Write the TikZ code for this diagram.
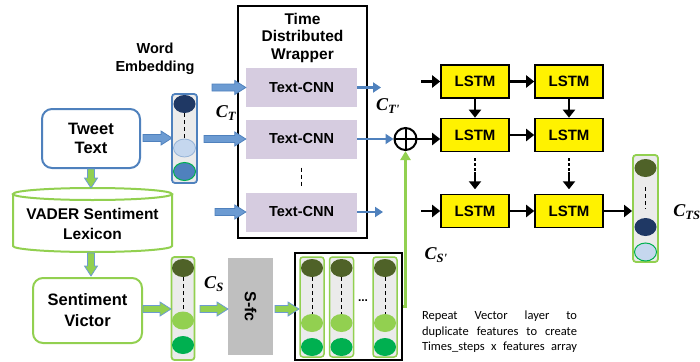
\documentclass[tikz,border=0pt]{standalone}
\usepackage{fontspec}
\setmainfont{Liberation Sans}
\newfontfamily\calfont{Carlito}
\newfontfamily\seriffont{Liberation Serif}
\usetikzlibrary{calc,arrows.meta,shapes.geometric}
\definecolor{bluebd}{HTML}{4F81BD}
\definecolor{bluefill}{HTML}{6C9BD2}
\definecolor{greenbd}{HTML}{92D050}
\definecolor{cnnfill}{HTML}{D6CCE0}
\definecolor{navy}{HTML}{1F3864}
\definecolor{lblue}{HTML}{C5D7EE}
\definecolor{mblue}{HTML}{4F81BD}
\definecolor{olive}{HTML}{4F6228}
\definecolor{lgreen}{HTML}{92D050}
\definecolor{dgreen}{HTML}{00B050}
\definecolor{vecbg}{HTML}{EBEBEB}
\definecolor{sfcgray}{HTML}{BFBFBF}
% horizontal block arrow (left to right)
\newcommand\harrow[3]{%
  \draw[#1] ($(#2)+(0,-3.5)$) -- ($(#3)+(-11,-3.5)$) -- ($(#3)+(-11,-7)$) -- (#3) --
  ($(#3)+(-11,7)$) -- ($(#3)+(-11,3.5)$) -- ($(#2)+(0,3.5)$) -- cycle;}
% vertical block arrow (downwards; y axis points down)
\newcommand\varrow[3]{%
  \draw[#1] ($(#2)+(-3.5,0)$) -- ($(#3)+(-3.5,-10)$) -- ($(#3)+(-6.5,-10)$) -- (#3) --
  ($(#3)+(6.5,-10)$) -- ($(#3)+(3.5,-10)$) -- ($(#2)+(3.5,0)$) -- cycle;}
\newcommand\clab[2]{C\textsubscript{#2}}
\tikzset{
  lbl/.style={align=center, inner sep=0pt, font=\bfseries\fontsize{15}{17.5}\selectfont},
  bluebox/.style={draw=bluebd, line width=2pt, rounded corners=10pt, fill=white, inner sep=0pt, align=center, font=\bfseries\fontsize{16.5}{19.5}\selectfont},
  greenbox/.style={draw=greenbd, line width=2pt, rounded corners=10pt, fill=white, inner sep=0pt, align=center, font=\bfseries\fontsize{16.5}{21}\selectfont},
  vecb/.style={draw=bluebd, line width=1.8pt, fill=vecbg, rounded corners=3pt, inner sep=0pt},
  vecg/.style={draw=greenbd, line width=1.8pt, fill=vecbg, rounded corners=3pt, inner sep=0pt},
  dot/.style={ellipse, minimum width=22pt, minimum height=18pt, inner sep=0pt},
  cnn/.style={fill=cnnfill, minimum width=111pt, minimum height=39pt, inner sep=0pt, font=\bfseries\fontsize{14.5}{16}\selectfont},
  lstm/.style={fill=yellow, draw=black, line width=1.6pt, minimum width=68pt, minimum height=33pt, inner sep=0pt, font=\bfseries\fontsize{15}{16}\selectfont},
  barr/.style={draw=bluebd, line width=2.5pt, -{Triangle[length=8pt,width=10pt]}},
  karr/.style={draw=black, line width=2.2pt, -{Triangle[length=8pt,width=12pt]}},
  garr/.style={draw=greenbd, line width=2.5pt, -{Triangle[length=9pt,width=10pt]}},
  bblk/.style={fill=bluefill, draw=bluebd, line width=0.8pt},
  gblk/.style={fill=greenbd, draw=bluefill, line width=0.8pt},
  clbl/.style={inner sep=0pt, font=\seriffont\bfseries\itshape\fontsize{18}{20}\selectfont},
}
\begin{document}
\begin{tikzpicture}[x=1pt,y=-1pt]
\useasboundingbox (0,0) rectangle (700,361);

% ---- left column
\node[lbl, font=\bfseries\fontsize{14.5}{18}\selectfont] (we) at (155,59) {Word\\Embedding};
\node[bluebox, minimum width=98pt, minimum height=59pt] (tweet) at (91,138.5) {Tweet\\Text};
\node[inner sep=0pt, minimum width=159pt, minimum height=64pt] (vader) at (92.5,220) {};
\draw[draw=greenbd, line width=2pt, fill=white] (13,194) -- (13,246) arc[start angle=180, end angle=0, x radius=79.5, y radius=6] -- (172,194);
\draw[draw=greenbd, line width=2pt, fill=white] (92.5,194) ellipse[x radius=79.5, y radius=6];
\node[lbl, font=\bfseries\fontsize{15.5}{20}\selectfont] (vadertxt) at (92.5,224) {VADER Sentiment\\Lexicon};
\node[greenbox, minimum width=109pt, minimum height=65pt] (sent) at (87.5,310.5) {Sentiment\\Victor};

\coordinate (t1) at (91,169);
\coordinate (t2) at (91,188);
\varrow{gblk}{t1}{t2}
\coordinate (v1) at (91,253);
\coordinate (v2) at (91,276);
\varrow{gblk}{v1}{v2}

% ---- embedding vector
\node[vecb, minimum width=25pt, minimum height=89pt] (emb) at (184.5,138.5) {};
\node[dot, fill=navy] (e1) at (184.5,104) {};
\node[dot, fill=lblue, draw=bluebd!60, line width=0.8pt] (e2) at (184.5,148) {};
\node[dot, fill=mblue, draw=dgreen, line width=1pt] (e3) at (184.5,171.5) {};
\draw[dashed, line width=0.8pt, dash pattern=on 4pt off 3pt] (e1.south) -- (e2.north);
\coordinate (tw1) at (143,138);
\coordinate (tw2) at (172,138);
\harrow{bblk}{tw1}{tw2}

% ---- sentiment vector
\node[vecg, minimum width=23pt, minimum height=103pt] (svec) at (183,308.5) {};
\node[dot, fill=olive] (s1) at (183,268) {};
\node[dot, fill=lgreen] (s2) at (183,320.5) {};
\node[dot, fill=dgreen] (s3) at (183,345) {};
\draw[dashed, line width=0.8pt, dash pattern=on 4pt off 3pt] (s1.south) -- (s2.north);
\coordinate (sv1) at (143,309);
\coordinate (sv2) at (171,309);
\harrow{gblk}{sv1}{sv2}

% ---- S-fc
\node[fill=sfcgray, minimum width=45pt, minimum height=97pt, inner sep=0pt] (sfc) at (250.5,306.5) {};
\node[rotate=-90, inner sep=0pt, font=\bfseries\fontsize{16}{18}\selectfont] (sfctxt) at (sfc.center) {S-fc};
\coordinate (sf1) at (200,309);
\coordinate (sf2) at (228,309);
\harrow{gblk}{sf1}{sf2}
\node[clbl] (lblcs) at (214,284) {\clab{C}{S}};

% ---- repeat box
\node[draw=black, line width=2pt, minimum width=107pt, minimum height=107pt, inner sep=0pt] (rep) at (348.5,306.5) {};
\foreach \n/\x in {1/312,2/341.5,3/385}{
  \node[vecg, line width=1.5pt, minimum width=24pt, minimum height=100pt] (r\n) at (\x,307) {};
  \node[dot, fill=olive] (r\n a) at (\x,268) {};
  \node[dot, fill=lgreen] (r\n b) at (\x,323) {};
  \node[dot, fill=dgreen] (r\n c) at (\x,347) {};
  \draw[dashed, line width=0.8pt, dash pattern=on 4pt off 3pt] (r\n a.south) -- (r\n b.north);
}
\node[inner sep=0pt, font=\bfseries\fontsize{12}{14}\selectfont] (dots) at (363,301) {...};
\coordinate (rp1) at (275,309);
\coordinate (rp2) at (299,309);
\harrow{gblk}{rp1}{rp2}

% ---- time distributed wrapper
\node[draw=black, line width=2pt, minimum width=129pt, minimum height=232pt, inner sep=0pt] (tdw) at (302.5,122) {};
\node[lbl, font=\bfseries\fontsize{15.5}{17.5}\selectfont] (tdwt) at (302.5,37.5) {Time\\Distributed\\Wrapper};
\node[cnn] (c1) at (301.5,87.5) {Text-CNN};
\node[cnn] (c2) at (301.5,139) {Text-CNN};
\node[cnn] (c3) at (301.5,212) {Text-CNN};
\draw[dashed, line width=0.8pt, dash pattern=on 4pt off 3pt] ($(c2.south)+(0,9)$) -- ($(c3.north)+(0,-6)$);
\coordinate (a1) at (212,87.5);
\coordinate (a2) at (204,139);
\coordinate (a3) at (215,212);
\harrow{bblk}{a1}{c1.west}
\harrow{bblk}{a2}{c2.west}
\harrow{bblk}{a3}{c3.west}
\node[clbl] (lblct) at (226,113) {\clab{C}{T}};

% ---- oplus
\node[circle, draw=black, line width=2pt, minimum size=22pt, inner sep=0pt, fill=white] (op) at (405.5,139) {};
\draw[line width=2pt] (op.north) -- (op.south) (op.west) -- (op.east);
\coordinate (c1o) at (381,87.5);
\coordinate (c3o) at (383,212);
\draw[barr] (c1.east) -- (c1o);
\draw[barr] (c2.east) -- (op.west);
\draw[barr] (c3.east) -- (c3o);
\node[clbl] (lblctp) at (388,106) {\clab{C}{T'}};
\draw[garr] (rep.east) -| (op.south);
\node[clbl] (lblcsp) at (436,255) {\clab{C}{S'}};

% ---- LSTM grid
\node[lstm] (l11) at (475,81.5) {LSTM};
\node[lstm] (l12) at (569,81.5) {LSTM};
\node[lstm] (l21) at (475,135) {LSTM};
\node[lstm] (l22) at (569,135) {LSTM};
\node[lstm] (l31) at (475,211) {LSTM};
\node[lstm] (l32) at (569,211) {LSTM};
\coordinate (in1) at (421,81.5);
\coordinate (in3) at (421,211);
\draw[karr] (in1) -- (l11.west);
\draw[karr] (op.east) -- (op.east -| l21.west);
\draw[karr] (in3) -- (l31.west);
\draw[karr] (l11.east) -- (l12.west);
\draw[karr] (l21.east) -- (l22.west);
\draw[karr] (l31.east) -- (l32.west);
\draw[karr] (l11.south) -- (l21.north);
\draw[karr] (l12.south) -- (l22.north);
\foreach \c in {l21,l22}{
  \draw[line width=2.2pt, dash pattern=on 2.5pt off 2.5pt] ($(\c.south)+(0,6)$) -- ($(\c.south)+(0,21)$);
  \draw[karr] ($(\c.south)+(0,20)$) -- ($(\c.south)+(0,37)$);
}

% ---- output vector
\node[vecg, minimum width=25pt, minimum height=107pt] (outv) at (645.5,208.5) {};
\node[dot, fill=olive] (o1) at (645.5,168) {};
\node[dot, fill=navy] (o2) at (645.5,227) {};
\node[dot, fill=lblue, draw=dgreen, line width=1pt] (o3) at (645.5,252) {};
\draw[dashed, line width=0.8pt, dash pattern=on 4pt off 3pt] ($(o1.south)+(0,10)$) -- ($(o2.north)+(0,-9)$);
\draw[karr] (l32.east) -- (l32.east -| outv.west);
\node[clbl] (lblcts) at (687,212) {\clab{C}{TS}};

% ---- caption text
\node[inner sep=0pt, align=left, font=\calfont\fontsize{12.5}{15.5}\selectfont] (note) at (499.5,332) {%
\makebox[155pt][s]{Repeat Vector layer to}\\
\makebox[155pt][s]{duplicate features to create}\\
\makebox[155pt][s]{Times\_steps x features array}};
\end{tikzpicture}
\end{document}
